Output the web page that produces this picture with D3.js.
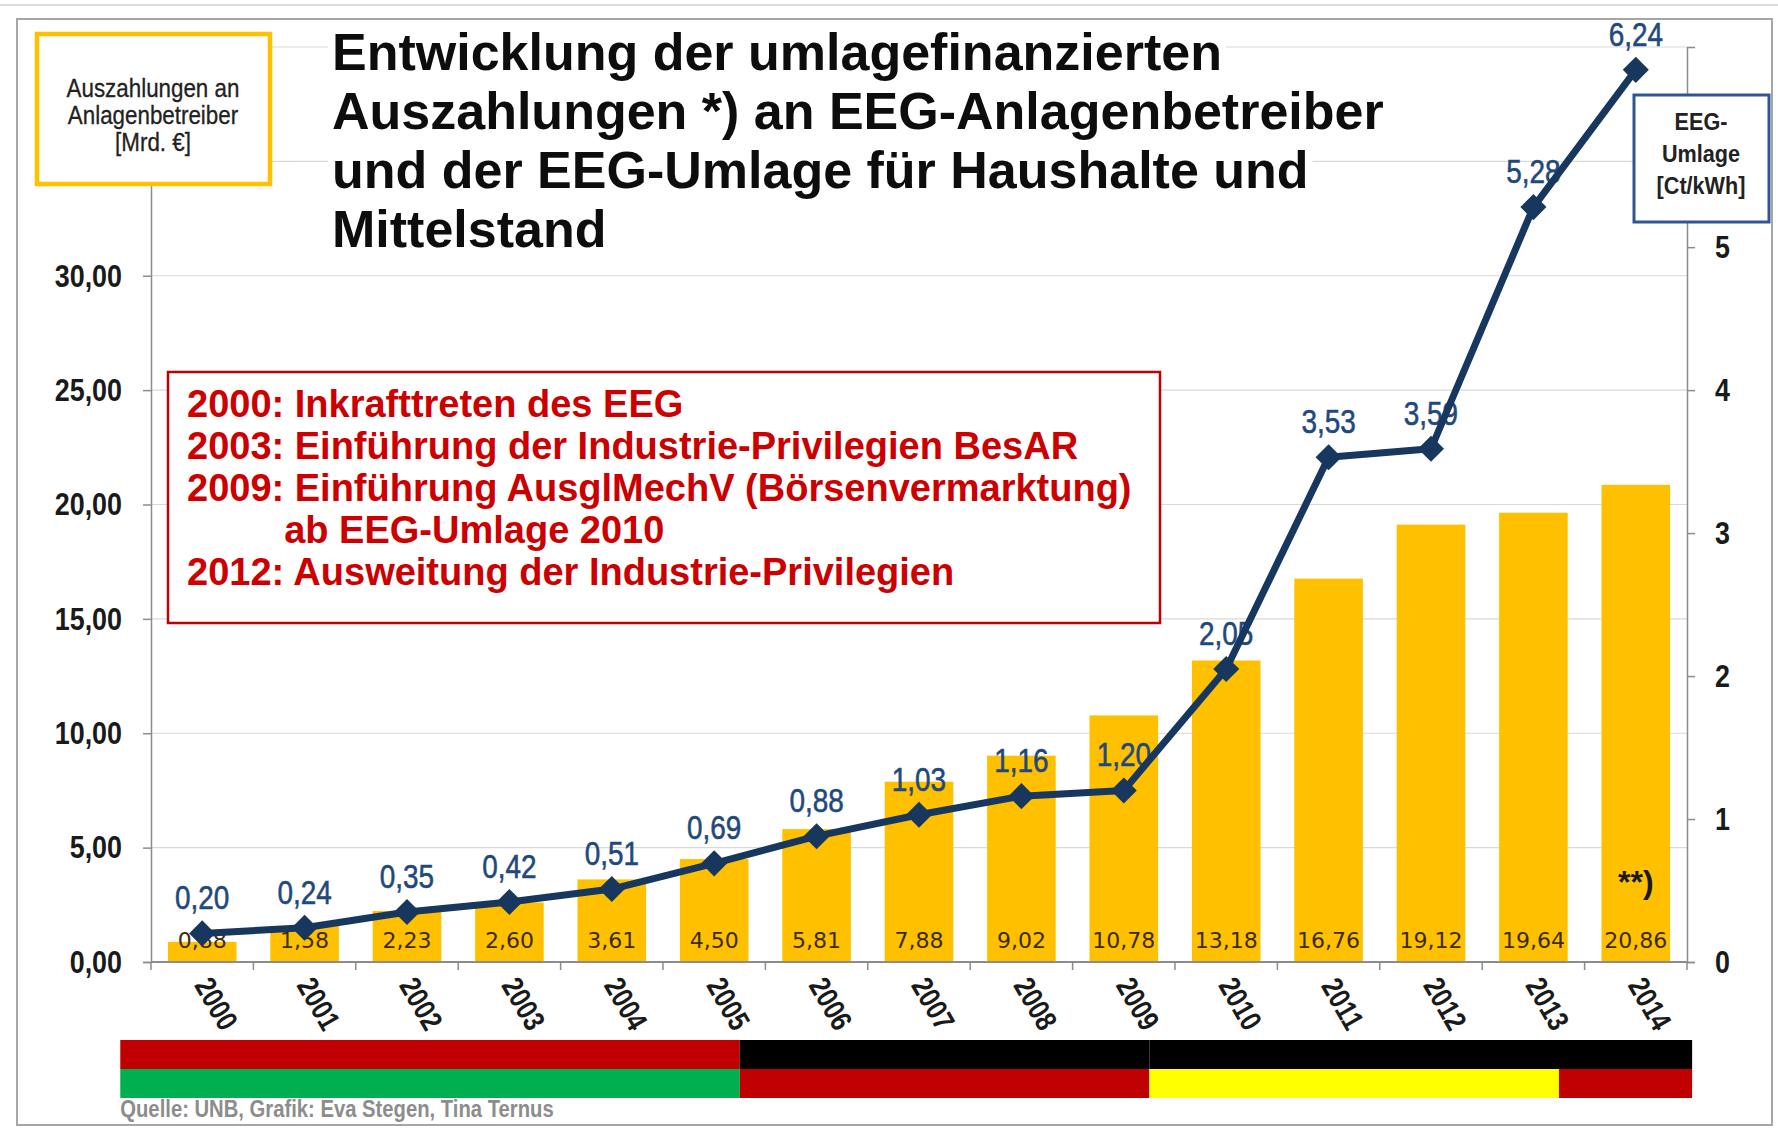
<!DOCTYPE html>
<html>
<head>
<meta charset="utf-8">
<script src="https://cdn.jsdelivr.net/npm/d3@7/dist/d3.min.js"></script>
<style>
    body { margin: 0; background: #fff; }
    svg { display: block; }
</style>
</head>
<body>
<svg id="chart"></svg>
<script>
// Data
const years = ["2000", "2001", "2002", "2003", "2004", "2005", "2006", "2007",
    "2008", "2009", "2010", "2011", "2012", "2013", "2014"];
const payouts = [0.88, 1.58, 2.23, 2.60, 3.61, 4.50, 5.81, 7.88, 9.02, 10.78, 13.18, 16.76, 19.12, 19.64, 20.86]; // Mrd. €
const levy = [0.20, 0.24, 0.35, 0.42, 0.51, 0.69, 0.88, 1.03, 1.16, 1.20, 2.05, 3.53, 3.59, 5.28, 6.24]; // Ct/kWh
const leftTickValues = [0, 5, 10, 15, 20, 25, 30];
const gridValues = [0, 5, 10, 15, 20, 25, 30, 35, 40];
const rightTickValues = [0, 1, 2, 3, 4, 5];
const titleLines = [
    "Entwicklung der umlagefinanzierten",
    "Auszahlungen *) an EEG-Anlagenbetreiber",
    "und der EEG-Umlage für Haushalte und",
    "Mittelstand"
];
const noteLines = [
    { year: "2000:", text: "Inkrafttreten des EEG" },
    { year: "2003:", text: "Einführung der Industrie-Privilegien BesAR" },
    { year: "2009:", text: "Einführung AusglMechV (Börsenvermarktung)" },
    { year: "", text: "ab EEG-Umlage 2010" },
    { year: "2012:", text: "Ausweitung der Industrie-Privilegien" }
];
const leftBoxLines = ["Auszahlungen an", "Anlagenbetreiber", "[Mrd. €]"];
const rightBoxLines = ["EEG-", "Umlage", "[Ct/kWh]"];
// government coalitions (fractional years as placed in the picture)
const coalitions = [
    { from: 1999.2, to: 2005.25, top: "SPD", bottom: "Grüne" },
    { from: 2005.25, to: 2009.25, top: "CDU", bottom: "SPD" },
    { from: 2009.25, to: 2013.25, top: "CDU", bottom: "FDP" },
    { from: 2013.25, to: 2014.55, top: "CDU", bottom: "SPD" }
];
const sourceText = "Quelle: UNB, Grafik: Eva Stegen, Tina Ternus";

// Constants
const width = 1778, height = 1129;
const plot = { left: 151, right: 1687, top: 47, bottom: 962 };
const partyColours = { SPD: "#C00000", "Grüne": "#00B050", CDU: "#000000", FDP: "#FFFF00" };
const barColour = "#FFC000";
const lineColour = "#17375E";
const labelBlue = "#1F497D";
const arial = "'Liberation Sans', Arial, sans-serif";
const fmt = v => d3.format(".2f")(v).replace(".", ",");

// no narrow font installed: squeeze glyphs horizontally instead
function condense(sel, k) {
    sel.each(function () {
        const len = this.getComputedTextLength();
        d3.select(this).attr("textLength", len * k).attr("lengthAdjust", "spacingAndGlyphs");
    });
}

const svg = d3.select("#chart").attr("width", width).attr("height", height);

// Frame
svg.append("line")
    .attr("x1", 0).attr("x2", width).attr("y1", 5).attr("y2", 5)
    .attr("stroke", "#dcdcdc").attr("stroke-width", 2);
svg.append("rect")
    .attr("x", 17).attr("y", 19).attr("width", 1755).attr("height", 1106)
    .attr("fill", "none").attr("stroke", "#a6a6a6").attr("stroke-width", 2);

// Scales
const xScale = d3.scaleBand()
    .domain(years)
    .range([plot.left, plot.right])
    .paddingInner(0.33)
    .paddingOuter(0.165);
const xCenter = d => xScale(d) + xScale.bandwidth() / 2;
const yearScale = d3.scaleLinear()
    .domain([2000, 2014])
    .range([xCenter("2000"), xCenter("2014")]);
const yLeft = d3.scaleLinear().domain([0, 40]).range([plot.bottom, plot.top]);
const yRight = d3.scaleLinear().domain([0, 6.4]).range([plot.bottom, plot.top]);

const bars = years.map((y, i) => ({ year: y, payout: payouts[i], levy: levy[i] }));

// Gridlines
svg.selectAll(".grid")
    .data(gridValues)
    .enter()
    .append("line")
    .attr("class", "grid")
    .attr("x1", plot.left).attr("x2", plot.right)
    .attr("y1", d => yLeft(d)).attr("y2", d => yLeft(d))
    .attr("stroke", "#d9d9d9").attr("stroke-width", 1.2);

// Left axis
const leftAxis = svg.append("g")
    .attr("transform", `translate(${plot.left},0)`)
    .call(d3.axisLeft(yLeft).tickValues(leftTickValues).tickSize(8).tickPadding(21).tickFormat(fmt));
leftAxis.select(".domain").attr("stroke", "#8c8c8c").attr("stroke-width", 1.5);
leftAxis.selectAll(".tick line").attr("stroke", "#8c8c8c").attr("stroke-width", 1.5);
leftAxis.selectAll(".tick text")
    .style("font-family", arial).style("font-weight", "bold").style("font-size", "32px")
    .attr("fill", "#1a1a1a")
    .call(condense, 0.84);

// Right axis
const rightAxis = svg.append("g")
    .attr("transform", `translate(${plot.right},0)`)
    .call(d3.axisRight(yRight).tickValues(rightTickValues).tickSize(8).tickPadding(20).tickFormat(d3.format("d")));
rightAxis.select(".domain").attr("stroke", "#8c8c8c").attr("stroke-width", 1.5);
rightAxis.selectAll(".tick line").attr("stroke", "#8c8c8c").attr("stroke-width", 1.5);
rightAxis.selectAll(".tick text")
    .style("font-family", arial).style("font-weight", "bold").style("font-size", "32px")
    .attr("fill", "#1a1a1a")
    .call(condense, 0.84);

// Bars
svg.selectAll(".bar")
    .data(bars)
    .enter()
    .append("rect")
    .attr("class", "bar")
    .attr("x", d => xScale(d.year))
    .attr("width", xScale.bandwidth())
    .attr("y", d => yLeft(d.payout))
    .attr("height", d => yLeft(0) - yLeft(d.payout))
    .attr("fill", barColour);

// X axis line and ticks between categories
svg.append("line")
    .attr("x1", plot.left).attr("x2", plot.right)
    .attr("y1", yLeft(0)).attr("y2", yLeft(0))
    .attr("stroke", "#8c8c8c").attr("stroke-width", 2);
svg.selectAll(".xTick")
    .data(d3.range(years.length + 1))
    .enter()
    .append("line")
    .attr("class", "xTick")
    .attr("x1", i => plot.left + i * xScale.step())
    .attr("x2", i => plot.left + i * xScale.step())
    .attr("y1", yLeft(0)).attr("y2", yLeft(0) + 8)
    .attr("stroke", "#8c8c8c").attr("stroke-width", 1.5);

// Year labels
svg.selectAll(".yearLabel")
    .data(years)
    .enter()
    .append("text")
    .attr("class", "yearLabel")
    .attr("transform", d => `translate(${xCenter(d) + 12},${yLeft(0) + 43}) rotate(60)`)
    .attr("text-anchor", "middle")
    .attr("dominant-baseline", "middle")
    .style("font-family", arial).style("font-weight", "bold").style("font-size", "30px")
    .attr("fill", "#1a1a1a")
    .text(d => d)
    .call(condense, 0.82);

// Bar value labels
svg.selectAll(".barLabel")
    .data(bars)
    .enter()
    .append("text")
    .attr("class", "barLabel")
    .attr("x", d => xCenter(d.year))
    .attr("y", yLeft(0) - 14)
    .attr("text-anchor", "middle")
    .style("font-family", "'DejaVu Sans', sans-serif").style("font-size", "22px")
    .attr("fill", "#3a2c00")
    .text(d => fmt(d.payout));

// Footnote on last bar
svg.append("text")
    .attr("x", xCenter(years[years.length - 1]))
    .attr("y", yLeft(3))
    .attr("text-anchor", "middle")
    .style("font-family", arial).style("font-weight", "bold").style("font-size", "32px")
    .attr("fill", "#1a1a1a")
    .text("**)");

// Levy value labels
svg.selectAll(".levyLabel")
    .data(bars)
    .enter()
    .append("text")
    .attr("class", "levyLabel")
    .attr("x", d => xCenter(d.year))
    .attr("y", d => yRight(d.levy) - 24)
    .attr("text-anchor", "middle")
    .style("font-family", arial).style("font-size", "34px")
    .attr("fill", labelBlue)
    .attr("stroke", labelBlue)
    .attr("stroke-width", 0.6)
    .text(d => fmt(d.levy))
    .call(condense, 0.82);

// Levy line
const line = d3.line()
    .x(d => xCenter(d.year))
    .y(d => yRight(d.levy));
svg.append("path")
    .datum(bars)
    .attr("d", line)
    .attr("fill", "none")
    .attr("stroke", lineColour)
    .attr("stroke-width", 7)
    .attr("stroke-linejoin", "round");

// Diamond markers
svg.selectAll(".marker")
    .data(bars)
    .enter()
    .append("path")
    .attr("class", "marker")
    .attr("d", d3.symbol(d3.symbolSquare, 340))
    .attr("transform", d => `translate(${xCenter(d.year)},${yRight(d.levy)}) rotate(45)`)
    .attr("fill", lineColour);

// Title, each line on a white box
const titleG = svg.append("g");
titleLines.forEach((t, i) => {
    const g = titleG.append("g");
    const txt = g.append("text")
        .attr("x", 332)
        .attr("y", 70 + i * 59)
        .style("font-family", arial).style("font-weight", "bold").style("font-size", "52px")
        .attr("fill", "#0d0d0d")
        .text(t);
    const bb = txt.node().getBBox();
    g.insert("rect", "text")
        .attr("x", bb.x - 4).attr("y", bb.y)
        .attr("width", bb.width + 8).attr("height", bb.height)
        .attr("fill", "#fff");
});

// Left unit box
svg.append("rect")
    .attr("x", 37).attr("y", 34).attr("width", 233).attr("height", 150)
    .attr("fill", "#fff").attr("stroke", barColour).attr("stroke-width", 4.5);
svg.selectAll(".leftBoxText")
    .data(leftBoxLines)
    .enter()
    .append("text")
    .attr("class", "leftBoxText")
    .attr("x", 153)
    .attr("y", (d, i) => 97 + i * 27)
    .attr("text-anchor", "middle")
    .style("font-family", arial).style("font-size", "26px")
    .attr("fill", "#222")
    .attr("stroke", "#222")
    .attr("stroke-width", 0.3)
    .text(d => d)
    .call(condense, 0.86);

// Right unit box
svg.append("rect")
    .attr("x", 1634).attr("y", 95).attr("width", 135).attr("height", 127)
    .attr("fill", "#fff").attr("stroke", "#2F5597").attr("stroke-width", 3);
svg.selectAll(".rightBoxText")
    .data(rightBoxLines)
    .enter()
    .append("text")
    .attr("class", "rightBoxText")
    .attr("x", 1701)
    .attr("y", (d, i) => 130 + i * 32)
    .attr("text-anchor", "middle")
    .style("font-family", arial).style("font-weight", "bold").style("font-size", "24px")
    .attr("fill", "#222")
    .text(d => d)
    .call(condense, 0.9);

// Annotation box
svg.append("rect")
    .attr("x", 168).attr("y", 372).attr("width", 992).attr("height", 251)
    .attr("fill", "#fff").attr("stroke", "#C00000").attr("stroke-width", 2.5);
const noteStyle = sel => sel
    .style("font-family", arial).style("font-weight", "bold").style("font-size", "38px")
    .attr("fill", "#CC0000");
const probe = svg.append("text").call(noteStyle).text("2009: ");
const indent = probe.node().getComputedTextLength();
probe.remove();
svg.selectAll(".note")
    .data(noteLines)
    .enter()
    .append("text")
    .attr("class", "note")
    .attr("x", d => d.year ? 187 : 187 + indent)
    .attr("y", (d, i) => 417 + i * 42)
    .attr("xml:space", "preserve")
    .call(noteStyle)
    .text(d => d.year ? d.year + " " + d.text : d.text);

// Coalition flag bars
const flagTop = 1040, flagRow = 29;
svg.selectAll(".flagTop")
    .data(coalitions)
    .enter()
    .append("rect")
    .attr("class", "flagTop")
    .attr("x", d => yearScale(d.from))
    .attr("width", d => yearScale(d.to) - yearScale(d.from))
    .attr("y", flagTop).attr("height", flagRow)
    .attr("fill", d => partyColours[d.top]);
svg.selectAll(".flagBottom")
    .data(coalitions)
    .enter()
    .append("rect")
    .attr("class", "flagBottom")
    .attr("x", d => yearScale(d.from))
    .attr("width", d => yearScale(d.to) - yearScale(d.from))
    .attr("y", flagTop + flagRow).attr("height", flagRow)
    .attr("fill", d => partyColours[d.bottom]);

// Source
svg.append("text")
    .attr("x", yearScale(coalitions[0].from))
    .attr("y", 1117)
    .style("font-family", arial).style("font-weight", "bold").style("font-size", "23px")
    .attr("fill", "#8c8c8c")
    .text(sourceText)
    .call(condense, 0.88);
</script>
</body>
</html>
